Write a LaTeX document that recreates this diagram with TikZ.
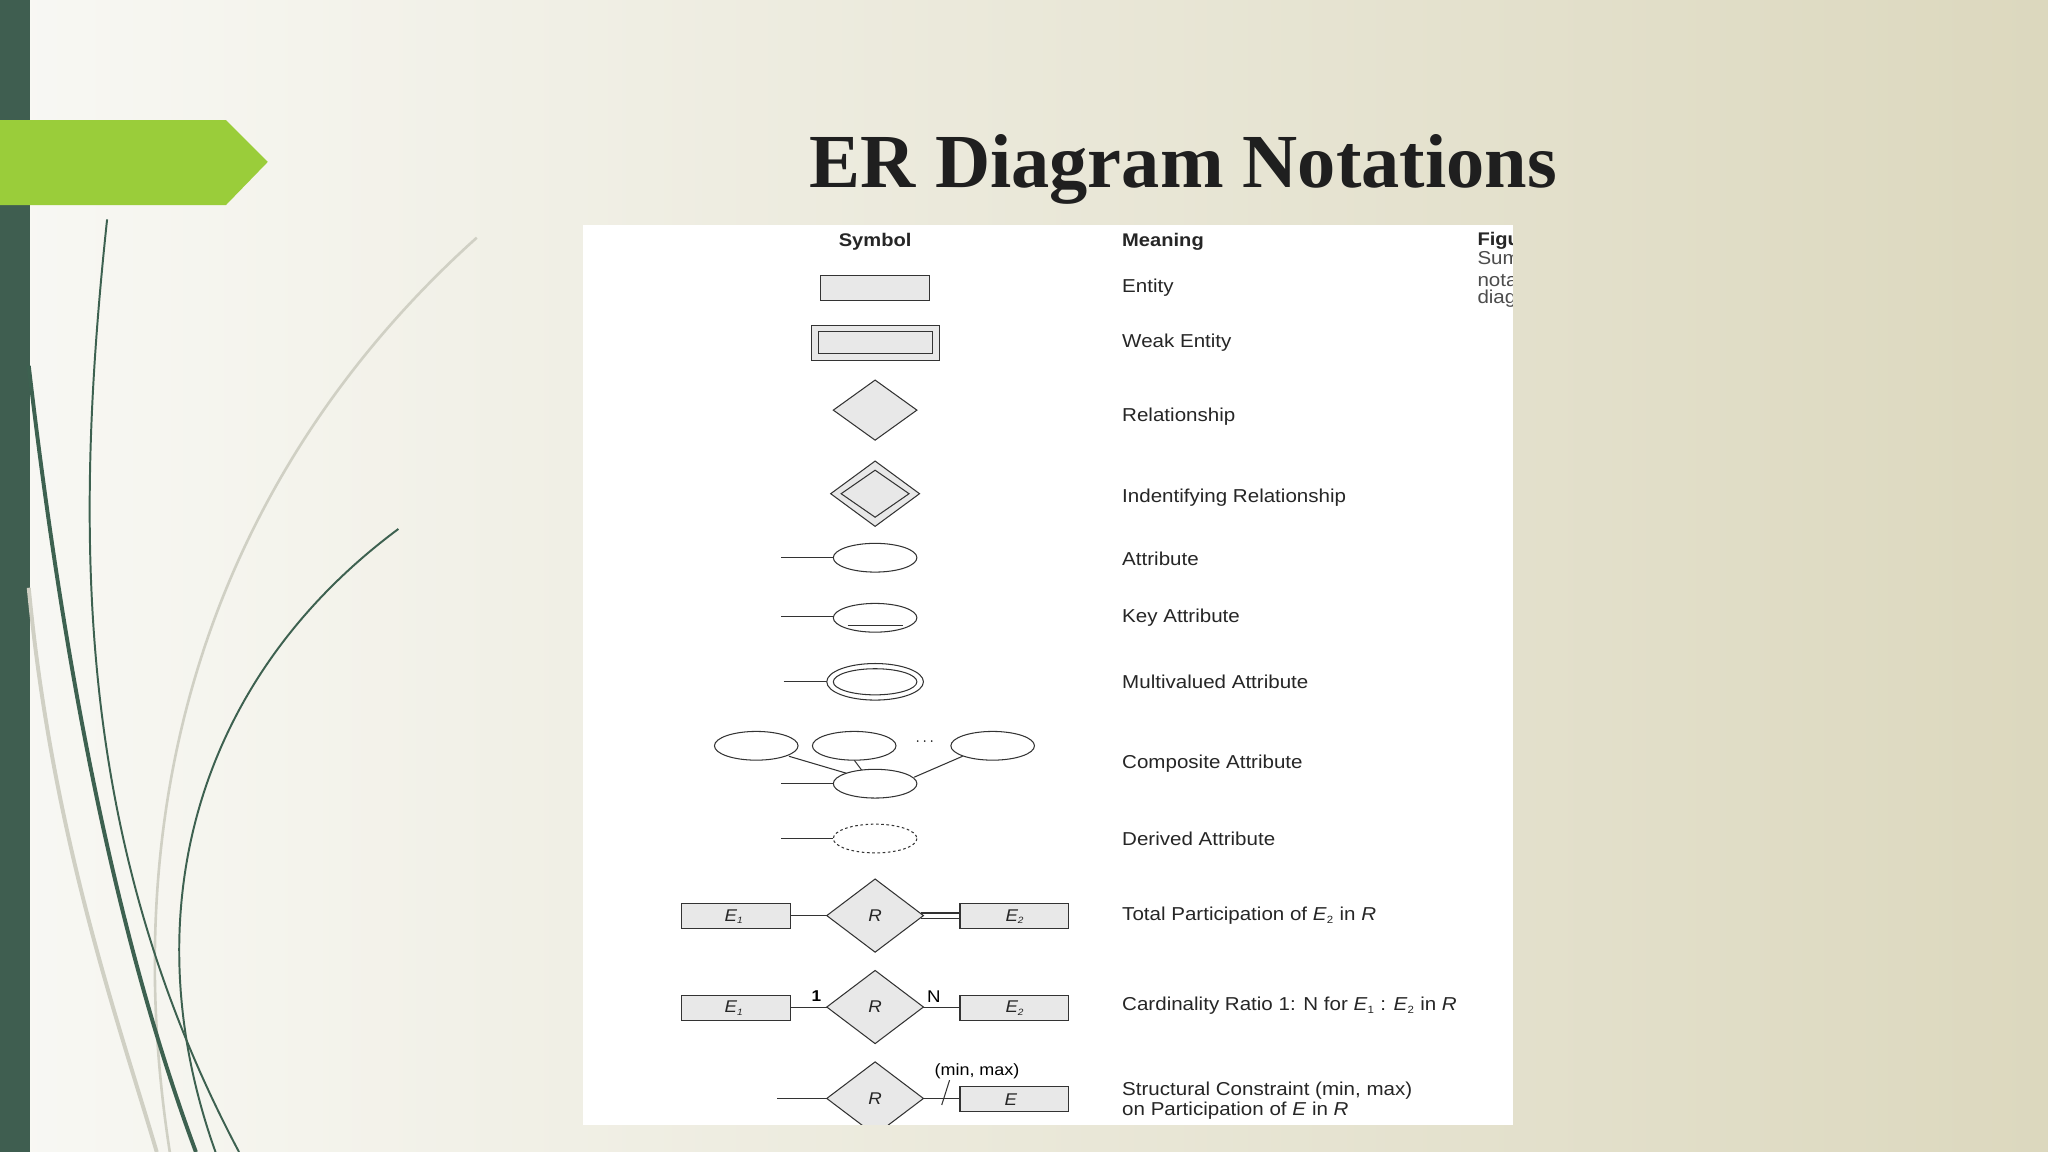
\documentclass[tikz,border=0pt]{standalone}
\usepackage{fontspec}
\setmainfont{Liberation Sans}
\newfontfamily\bodyfont[FakeStretch=1.1]{Liberation Sans}
\newfontfamily\titlefont{Liberation Serif}
\usetikzlibrary{calc,shapes.geometric}
\definecolor{barc}{HTML}{3F5E50}
\definecolor{greenc}{HTML}{9ACD3A}
\definecolor{grassd}{HTML}{3D6150}
\definecolor{grassl}{HTML}{D0D0C4}
\definecolor{fillg}{HTML}{E8E8E8}
\definecolor{bgl}{HTML}{F8F8F4}
\definecolor{bgr}{HTML}{DCD8BE}
\tikzset{x=1pt,y=-1pt,
 shp/.style={draw=black!80,fill=fillg,line width=0.8pt},
 ln/.style={draw=black!80,line width=0.8pt},
 lab/.style={anchor=west,font=\bodyfont\fontsize{14.3}{16}\selectfont,text=black!85,inner sep=0pt},
 it/.style={font=\bodyfont\fontsize{13}{14}\selectfont\itshape,text=black!85,inner sep=0pt}}
\begin{document}
\begin{tikzpicture}
\useasboundingbox (0,0) rectangle (1568,882);
\shade[left color=bgl, right color=bgr] (0,0) rectangle (1568,882);
\fill[barc] (0,0) rectangle (23,882);
% grass
\draw[grassl,line width=2pt] (365,182) .. controls (200,330) and (80,560) .. (130,882);
\draw[grassl,line width=3pt] (22,450) .. controls (40,640) and (90,780) .. (120,882);
\draw[grassd,line width=1.5pt] (82,168) .. controls (55,420) and (60,650) .. (183,882);
\draw[grassd,line width=3pt] (22,280) .. controls (50,520) and (90,720) .. (150,882);
\draw[grassd,line width=1.5pt] (305,405) .. controls (150,520) and (100,700) .. (165,882);
\fill[greenc] (0,92) -- (173,92) -- (205,124) -- (173,157) -- (0,157) -- cycle;
\node[font=\titlefont\bfseries\fontsize{58.5}{62}\selectfont,text=black!88] (title) at (906,130) {ER Diagram Notations};
% panel
\fill[white] (446,172) rectangle (1158,861);
\begin{scope}
\clip (446,172) rectangle (1158,861);
\node[font=\bodyfont\bfseries\fontsize{14}{15}\selectfont,inner sep=0pt,text=black!85] (hsym) at (670,185) {Symbol};
\node[lab,font=\bodyfont\bfseries\fontsize{14}{15}\selectfont] (hmean) at (859,185) {Meaning};
\node[lab,font=\bodyfont\bfseries\fontsize{14}{15}\selectfont] (fig) at (1131,184) {Figure};
\node[lab,text=black!70] (c1) at (1131,199) {Summary};
\node[lab,text=black!70] (c2) at (1131,214) {notation};
\node[lab,text=black!70] (c3) at (1131,229) {diagrams};
% entity
\draw[shp] (628,211) rectangle (712,230);
\node[lab] (m1) at (859,220) {Entity};
% weak
\draw[shp] (621,249) rectangle (719,276);
\draw[ln] (627,254) rectangle (714,271);
\node[lab] (m2) at (859,262) {Weak Entity};
% relationship
\draw[shp] (638,314) -- (670,291) -- (702,314) -- (670,337) -- cycle;
\node[lab] (m3) at (859,319) {Relationship};
% identifying
\draw[shp] (636,378) -- (670,353) -- (704,378) -- (670,403) -- cycle;
\draw[ln] (644,378) -- (670,360) -- (696,378) -- (670,396) -- cycle;
\node[lab] (m4) at (859,381) {Indentifying Relationship};
% attribute
\draw[ln] (598,427) -- (638,427);
\draw[shp,fill=white] (670,427) ellipse [x radius=32,y radius=11];
\node[lab] (m5) at (859,428) {Attribute};
% key
\draw[ln] (598,472) -- (638,472);
\draw[shp,fill=white] (670,473) ellipse [x radius=32,y radius=11];
\draw[ln] (649,479) -- (691,479);
\node[lab] (m6) at (859,473) {Key Attribute};
% multivalued
\draw[ln] (600,522) -- (633,522);
\draw[shp,fill=white] (670,522) ellipse [x radius=37,y radius=14];
\draw[ln] (670,522) ellipse [x radius=32,y radius=10];
\node[lab] (m7) at (859,522) {Multivalued Attribute};
% composite
\draw[ln] (598,600) -- (638,600);
\draw[ln] (604,579) -- (648,592);
\draw[ln] (654,582) -- (660,590);
\draw[ln] (737,579) -- (700,595);
\draw[shp,fill=white] (579,571) ellipse [x radius=32,y radius=11];
\draw[shp,fill=white] (654,571) ellipse [x radius=32,y radius=11];
\draw[shp,fill=white] (760,571) ellipse [x radius=32,y radius=11];
\draw[shp,fill=white] (670,600) ellipse [x radius=32,y radius=11];
\node[font=\fontsize{12}{14}\selectfont,inner sep=0pt] (dots) at (708,568) {$\cdots$};
\node[lab] (m8) at (859,585) {Composite Attribute};
% derived
\draw[ln] (598,642) -- (638,642);
\draw[ln,dashed,dash pattern=on 2pt off 2pt,fill=white] (670,642) ellipse [x radius=32,y radius=11];
\node[lab] (m9) at (859,642) {Derived Attribute};
% total participation
\draw[ln] (605,701) -- (633,701);
\draw[ln] (705,699) -- (735,699);
\draw[ln] (705,703) -- (735,703);
\draw[shp] (522,692) rectangle (605,711);
\draw[shp] (735,692) rectangle (818,711);
\draw[shp] (633,701) -- (670,673) -- (707,701) -- (670,729) -- cycle;
\node[it] (e1a) at (562,702) {E\textsubscript{\fontsize{7}{8}\selectfont 1}};
\node[it] (e2a) at (777,702) {E\textsubscript{\fontsize{7}{8}\selectfont 2}};
\node[it] (ra) at (670,701) {R};
\node[lab] (m10) at (859,701) {Total Participation of \textit{E}\textsubscript{\fontsize{8}{9}\selectfont 2} in \textit{R}};
% cardinality
\draw[ln] (605,771) -- (633,771);
\draw[ln] (707,771) -- (735,771);
\draw[shp] (522,762) rectangle (605,781);
\draw[shp] (735,762) rectangle (818,781);
\draw[shp] (633,771) -- (670,743) -- (707,771) -- (670,799) -- cycle;
\node[it] (e1b) at (562,772) {E\textsubscript{\fontsize{7}{8}\selectfont 1}};
\node[it] (e2b) at (777,772) {E\textsubscript{\fontsize{7}{8}\selectfont 2}};
\node[it] (rb) at (670,771) {R};
\node[font=\bodyfont\bfseries\fontsize{12}{13}\selectfont,inner sep=0pt] (one) at (625,763) {1};
\node[font=\bodyfont\fontsize{13}{14}\selectfont,inner sep=0pt] (nn) at (715,763) {N};
\node[lab] (m11) at (859,770) {Cardinality Ratio 1: N for \textit{E}\textsubscript{\fontsize{8}{9}\selectfont 1} : \textit{E}\textsubscript{\fontsize{8}{9}\selectfont 2} in \textit{R}};
% structural
\draw[ln] (595,841) -- (633,841);
\draw[ln] (707,841) -- (735,841);
\draw[ln] (721,846) -- (727,827);
\draw[shp] (735,832) rectangle (818,851);
\draw[shp] (633,841) -- (670,813) -- (707,841) -- (670,869) -- cycle;
\node[it] (ec) at (774,842) {E};
\node[it] (rc) at (670,841) {R};
\node[font=\bodyfont\fontsize{12.5}{13}\selectfont,inner sep=0pt] (mm) at (748,820) {(min, max)};
\node[lab] (m12) at (859,835) {Structural Constraint (min, max)};
\node[lab] (m13) at (859,850) {on Participation of \textit{E} in \textit{R}};
\end{scope}
\end{tikzpicture}
\end{document}
